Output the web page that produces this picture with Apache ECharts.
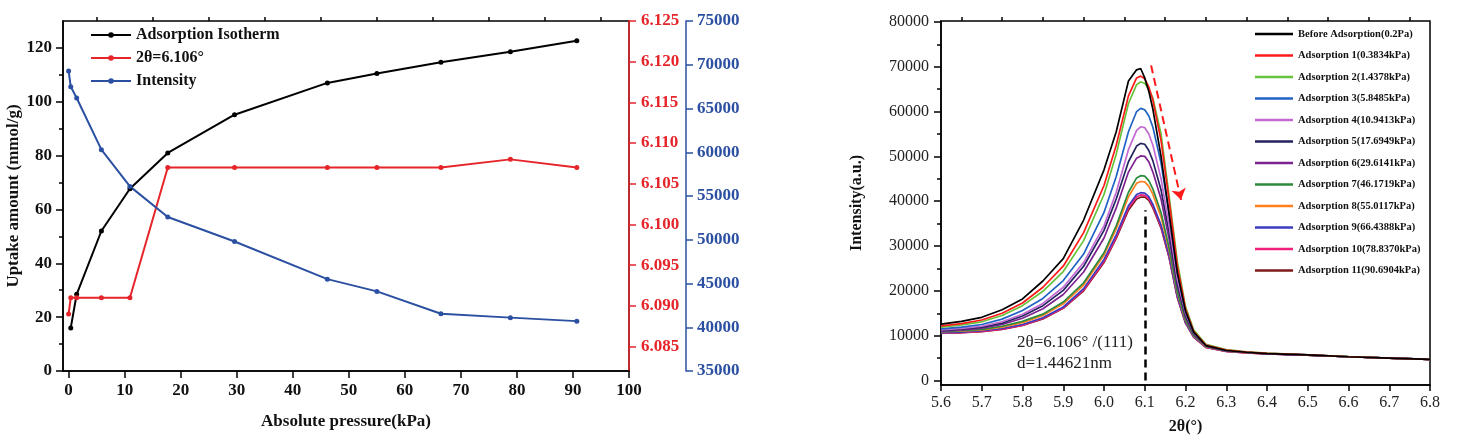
<!DOCTYPE html>
<html lang="en">
<head>
  <meta charset="UTF-8">
  <title>Adsorption / XRD</title>
  <script src="https://cdn.jsdelivr.net/npm/echarts@6/dist/echarts.min.js"></script>
</head>
<body style="margin:0;background:#fff">
<div id="main" style="width:1459px;height:443px;"></div>
<script type="text/javascript">
  // ---------- left panel data ----------
  // absolute pressure (kPa) of each measurement
  const pressure = [0.0002, 0.3834, 1.4378, 5.8485, 10.9413, 17.6949, 29.6141, 46.1719, 55.0117, 66.4388, 78.837, 90.6904];
  // uptake starts at the first adsorption point (index 1)
  const uptake = [16, 28.5, 52, 67.7, 81, 95.2, 107, 110.5, 114.7, 118.6, 122.7];
  const peakPos = [6.089, 6.091, 6.091, 6.091, 6.091, 6.107, 6.107, 6.107, 6.107, 6.107, 6.108, 6.107];
  const peakInt = [69300, 67500, 66200, 60300, 56100, 52600, 49800, 45500, 44100, 41550, 41100, 40700];

  const pressTicks = [0, 10, 20, 30, 40, 50, 60, 70, 80, 90, 100];
  const pressMinor = [5, 15, 25, 35, 45, 55, 65, 75, 85, 95];
  const uptakeTicks = [0, 20, 40, 60, 80, 100, 120];
  const uptakeMinor = [10, 30, 50, 70, 90, 110];
  const posTicks = [6.085, 6.090, 6.095, 6.100, 6.105, 6.110, 6.115, 6.120, 6.125];

  // ---------- right panel data ----------
  const twoTheta = [5.6, 5.65, 5.7, 5.75, 5.8, 5.85, 5.9, 5.95, 6.0, 6.03, 6.06, 6.08, 6.09, 6.1, 6.11, 6.12, 6.14, 6.16, 6.18, 6.2, 6.22, 6.25, 6.3, 6.35, 6.4, 6.5, 6.6, 6.7, 6.8];
  const xrdBefore = [12600, 13200, 14100, 15800, 18200, 22200, 27200, 35800, 47000, 55500, 66800, 69300, 69600, 67500, 64500, 60500, 50000, 37000, 24000, 15500, 10800, 7800, 6700, 6300, 6000, 5700, 5300, 5000, 4700];
  const xrdAds1 = [12200, 12700, 13500, 15000, 17300, 20800, 25500, 33000, 43500, 52500, 63500, 67500, 67900, 67300, 65500, 62500, 53500, 40000, 25500, 16000, 11000, 7900, 6800, 6350, 6050, 5700, 5300, 5000, 4700];
  const xrdAds2 = [11900, 12400, 13100, 14500, 16700, 19900, 24300, 31200, 41500, 50500, 61800, 66000, 66600, 66300, 65000, 63000, 55000, 41000, 26500, 16500, 11300, 8100, 6900, 6400, 6100, 5750, 5350, 5000, 4700];
  const xrdAds3 = [11500, 11900, 12500, 13700, 15600, 18300, 22300, 28200, 37500, 45500, 55500, 60000, 60700, 60400, 59000, 56500, 48500, 37000, 24000, 15500, 10900, 7900, 6800, 6300, 6050, 5700, 5300, 5000, 4700];
  const xrdAds4 = [11300, 11600, 12100, 13100, 14800, 17200, 20800, 26300, 34500, 42000, 51500, 55800, 56600, 56400, 55000, 52500, 45000, 34500, 22500, 15000, 10700, 7800, 6700, 6300, 6000, 5700, 5300, 5000, 4700];
  const xrdAds5 = [11200, 11500, 11900, 12800, 14400, 16700, 20100, 25500, 33500, 40500, 48800, 52300, 52900, 52700, 51300, 49000, 42500, 33000, 21500, 14500, 10500, 7700, 6700, 6300, 6000, 5650, 5300, 5000, 4700];
  const xrdAds6 = [11000, 11300, 11700, 12500, 13900, 16000, 19200, 24200, 31800, 38500, 46500, 49600, 50100, 50000, 48800, 46500, 40500, 31500, 21000, 14200, 10400, 7700, 6650, 6250, 6000, 5650, 5300, 5000, 4700];
  const xrdAds7 = [10900, 11100, 11400, 12100, 13200, 14800, 17500, 21800, 28500, 34500, 42000, 45200, 45700, 45600, 44600, 42700, 37500, 29500, 19800, 13600, 10100, 7600, 6600, 6250, 6000, 5650, 5300, 5000, 4700];
  const xrdAds8 = [10900, 11000, 11300, 11900, 12900, 14500, 17100, 21300, 28000, 33800, 41000, 44000, 44400, 44300, 43300, 41500, 36500, 29000, 19500, 13400, 10000, 7550, 6600, 6200, 6000, 5650, 5300, 5000, 4700];
  const xrdAds9 = [10700, 10800, 11100, 11600, 12500, 14000, 16400, 20500, 27000, 32500, 39000, 41500, 41900, 41800, 41000, 39300, 34700, 27800, 18800, 13000, 9800, 7500, 6550, 6200, 5950, 5650, 5300, 5000, 4700];
  const xrdAds10 = [10600, 10700, 10950, 11450, 12350, 13850, 16200, 20200, 26600, 32000, 38500, 41000, 41400, 41300, 40600, 38900, 34300, 27500, 18600, 12900, 9700, 7400, 6500, 6150, 5950, 5650, 5300, 5000, 4700];
  const xrdAds11 = [10600, 10650, 10900, 11400, 12300, 13750, 16100, 20000, 26300, 31700, 38000, 40500, 40900, 40900, 40200, 38500, 34000, 27300, 18500, 12800, 9700, 7400, 6500, 6150, 5950, 5650, 5300, 5000, 4700];

  const xrdNames = ['Before Adsorption(0.2Pa)', 'Adsorption 1(0.3834kPa)', 'Adsorption 2(1.4378kPa)', 'Adsorption 3(5.8485kPa)',
    'Adsorption 4(10.9413kPa)', 'Adsorption 5(17.6949kPa)', 'Adsorption 6(29.6141kPa)', 'Adsorption 7(46.1719kPa)',
    'Adsorption 8(55.0117kPa)', 'Adsorption 9(66.4388kPa)', 'Adsorption 10(78.8370kPa)', 'Adsorption 11(90.6904kPa)'];
  const xrdColors = ['#000000', '#ff1a1a', '#66c23a', '#2163c4', '#c26ad2', '#23235e', '#7d228f', '#2c8a3c', '#ff7f1f', '#3c3cc0', '#f0207c', '#7e1a1a'];
  const xrdSets = [xrdBefore, xrdAds1, xrdAds2, xrdAds3, xrdAds4, xrdAds5, xrdAds6, xrdAds7, xrdAds8, xrdAds9, xrdAds10, xrdAds11];

  const thetaTicks = [5.6, 5.7, 5.8, 5.9, 6.0, 6.1, 6.2, 6.3, 6.4, 6.5, 6.6, 6.7, 6.8];
  const thetaMinor = [5.65, 5.75, 5.85, 5.95, 6.05, 6.15, 6.25, 6.35, 6.45, 6.55, 6.65, 6.75];
  const intTicks = [0, 10000, 20000, 30000, 40000, 50000, 60000, 70000, 80000];
  const intMinor = [5000, 15000, 25000, 35000, 45000, 55000, 65000, 75000];

  const FONT = '"Liberation Serif", "Times New Roman", serif';
  const RED = '#e5252a';
  const BLUE = '#2b50a1';

  var myChart = echarts.init(document.getElementById('main'));

  function axisBase(color) {
    return {
      axisLine: {show: true, onZero: false, lineStyle: {color: color, width: 1.5}},
      splitLine: {show: false}
    };
  }

  // helper for the "minor tick only" overlay axes
  function minorAxis(extra) {
    return Object.assign({
      type: 'value',
      axisLine: {show: false, onZero: false},
      axisLabel: {show: false},
      splitLine: {show: false},
      axisTick: {show: true, length: 4, lineStyle: {color: '#000', width: 1.5}}
    }, extra);
  }

  const plain = v => String(v);

  const xrdSeries = xrdSets.map((arr, i) => ({
    name: xrdNames[i],
    type: 'line',
    xAxisIndex: 2,
    yAxisIndex: 4,
    symbol: 'none',
    lineStyle: {width: 1.7, color: xrdColors[i]},
    itemStyle: {color: xrdColors[i]},
    z: 20 - i,
    data: twoTheta.map((t, k) => [t, arr[k]])
  }));
  // dashed guide at the (111) peak
  xrdSeries[11].markLine = {
    silent: true, symbol: 'none', label: {show: false},
    lineStyle: {color: '#000', type: [8, 5], width: 2.5},
    data: [[{coord: [6.1, 0]}, {coord: [6.1, 38000]}]]
  };
  // red trend arrow
  xrdSeries[0].markLine = {
    silent: true, label: {show: false},
    symbol: ['none', 'arrow'], symbolSize: 11,
    lineStyle: {color: '#ff1a1a', type: [8, 5], width: 2},
    data: [[{coord: [6.1156, 70300]}, {coord: [6.189, 40300]}]]
  };

  myChart.setOption({
    backgroundColor: '#fff',
    animation: false,
    textStyle: {fontFamily: FONT},
    grid: [
      {left: 63, top: 21, width: 566, height: 350, show: true, borderColor: '#000', borderWidth: 1.5},
      {left: 941, top: 21, width: 489, height: 364, show: true, borderColor: '#000', borderWidth: 1.5}
    ],
    legend: [
      {
        orient: 'vertical', left: 90, top: 27, padding: 0, itemWidth: 40, itemHeight: 7, itemGap: 7,
        data: ['Adsorption Isotherm', '2θ=6.106°', 'Intensity'],
        textStyle: {fontFamily: FONT, fontWeight: 'bold', fontSize: 16, color: '#111', lineHeight: 16}
      },
      {
        orient: 'vertical', left: 1255, top: 28, padding: 0, itemWidth: 38, itemHeight: 2.5, itemGap: 9.5,
        icon: 'rect',
        data: xrdNames,
        textStyle: {fontFamily: FONT, fontWeight: 'bold', fontSize: 10.5, color: '#111', lineHeight: 12}
      }
    ],
    xAxis: [
      Object.assign(axisBase('#000'), {
        gridIndex: 0, type: 'value', min: -1, max: 100,
        name: 'Absolute pressure(kPa)', nameLocation: 'middle', nameGap: 42,
        nameTextStyle: {fontFamily: FONT, fontWeight: 'bold', fontSize: 17, color: '#111'},
        axisTick: {show: true, length: 7, customValues: pressTicks, lineStyle: {width: 1.5}},
        axisLabel: {customValues: pressTicks, margin: 11, fontFamily: FONT, fontWeight: 'bold', fontSize: 17, color: '#111'}
      }),
      minorAxis({gridIndex: 0, min: -1, max: 100, axisTick: {show: true, length: 4, customValues: pressMinor, lineStyle: {color: '#000', width: 1.5}}}),
      Object.assign(axisBase('#000'), {
        gridIndex: 1, type: 'value', min: 5.6, max: 6.8,
        name: '2θ(°)', nameLocation: 'middle', nameGap: 34,
        nameTextStyle: {fontFamily: FONT, fontWeight: 'bold', fontSize: 16, color: '#111'},
        axisTick: {show: true, length: 6, customValues: thetaTicks, lineStyle: {width: 1.5}},
        axisLabel: {customValues: thetaTicks, margin: 10, fontFamily: FONT, fontSize: 16, color: '#222',
          formatter: v => v.toFixed(1)}
      }),
      minorAxis({gridIndex: 1, min: 5.6, max: 6.8, axisTick: {show: true, length: 4, customValues: thetaMinor, lineStyle: {color: '#000', width: 1.5}}})
    ],
    yAxis: [
      Object.assign(axisBase('#000'), {
        gridIndex: 0, type: 'value', min: 0, max: 130, position: 'left',
        name: 'Uptake amount (mmol/g)', nameLocation: 'middle', nameGap: 38, nameRotate: 90,
        nameTextStyle: {fontFamily: FONT, fontWeight: 'bold', fontSize: 17, color: '#111'},
        axisTick: {show: true, length: 7, customValues: uptakeTicks, lineStyle: {width: 1.5}},
        axisLabel: {customValues: uptakeTicks, margin: 11, fontFamily: FONT, fontWeight: 'bold', fontSize: 17, color: '#111'}
      }),
      Object.assign(axisBase(RED), {
        gridIndex: 0, type: 'value', min: 6.082, max: 6.125, position: 'right', offset: 0,
        axisTick: {show: true, length: 7, customValues: posTicks, lineStyle: {width: 1.5}},
        axisLabel: {customValues: posTicks, margin: 12, fontFamily: FONT, fontWeight: 'bold', fontSize: 17, color: RED,
          formatter: v => v.toFixed(3)}
      }),
      Object.assign(axisBase(BLUE), {
        gridIndex: 0, type: 'value', min: 35000, max: 75000, interval: 5000, position: 'right', offset: 57,
        axisTick: {show: true, length: 7, lineStyle: {width: 1.5}},
        axisLabel: {margin: 11, fontFamily: FONT, fontWeight: 'bold', fontSize: 17, color: BLUE, formatter: plain}
      }),
      minorAxis({gridIndex: 0, min: 0, max: 130, position: 'left', axisTick: {show: true, length: 4, customValues: uptakeMinor, lineStyle: {color: '#000', width: 1.5}}}),
      Object.assign(axisBase('#000'), {
        gridIndex: 1, type: 'value', min: -1000, max: 80200, position: 'left',
        name: 'Intensity(a.u.)', nameLocation: 'middle', nameGap: 76, nameRotate: 90,
        nameTextStyle: {fontFamily: FONT, fontWeight: 'bold', fontSize: 16, color: '#111'},
        axisTick: {show: true, length: 7, customValues: intTicks, lineStyle: {width: 1.5}},
        axisLabel: {customValues: intTicks, margin: 12, fontFamily: FONT, fontSize: 16, color: '#222', formatter: plain}
      }),
      minorAxis({gridIndex: 1, min: -1000, max: 80200, position: 'left', axisTick: {show: true, length: 4, customValues: intMinor, lineStyle: {color: '#000', width: 1.5}}})
    ],
    graphic: [
      {type: 'text', left: 1017, top: 334, style: {text: '2θ=6.106° /(111)', font: '17px ' + FONT, fill: '#222'}},
      {type: 'text', left: 1017, top: 355, style: {text: 'd=1.44621nm', font: '17px ' + FONT, fill: '#222'}}
    ],
    series: [
      {
        name: 'Adsorption Isotherm', type: 'line', xAxisIndex: 0, yAxisIndex: 0,
        symbol: 'circle', symbolSize: 5, lineStyle: {width: 2, color: '#000'}, itemStyle: {color: '#000'},
        data: uptake.map((u, k) => [pressure[k + 1], u])
      },
      {
        name: '2θ=6.106°', type: 'line', xAxisIndex: 0, yAxisIndex: 1,
        symbol: 'circle', symbolSize: 5, lineStyle: {width: 2, color: RED}, itemStyle: {color: RED},
        data: peakPos.map((p, k) => [pressure[k], p])
      },
      {
        name: 'Intensity', type: 'line', xAxisIndex: 0, yAxisIndex: 2,
        symbol: 'circle', symbolSize: 5, lineStyle: {width: 2, color: BLUE}, itemStyle: {color: BLUE},
        data: peakInt.map((p, k) => [pressure[k], p])
      }
    ].concat(xrdSeries)
  });
</script>
</body>
</html>
